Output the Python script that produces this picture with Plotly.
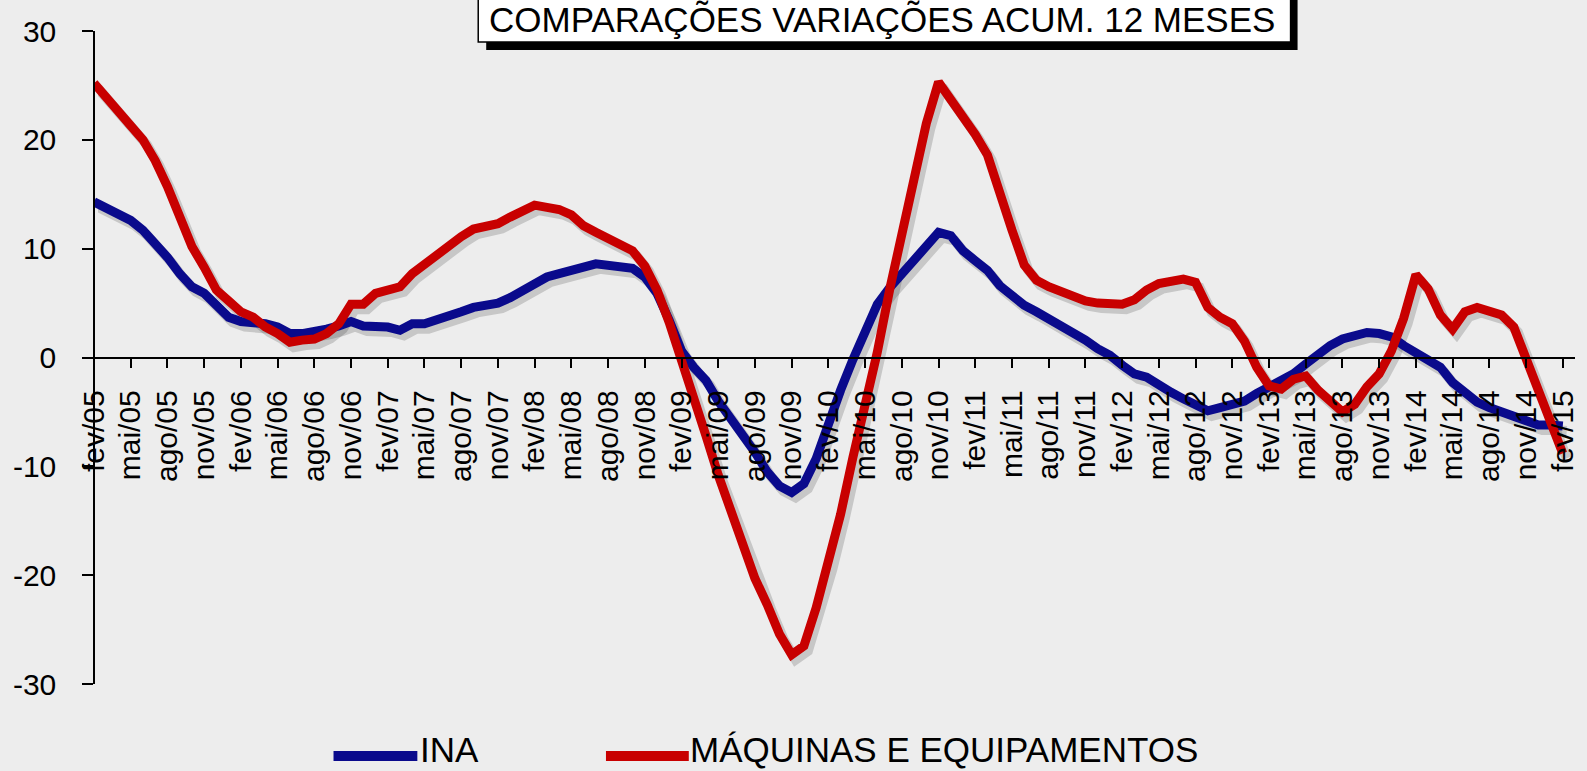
import plotly.graph_objects as go

# ---------------- data ----------------
month_names = ["jan", "fev", "mar", "abr", "mai", "jun", "jul", "ago", "set", "out", "nov", "dez"]
categories = [f"{month_names[(1 + k) % 12]}/{(5 + (1 + k) // 12):02d}" for k in range(121)]  # fev/05 .. fev/15
tick_labels = categories[::3]

ina = [
    14.3, 13.7, 13.1, 12.6, 11.7, 10.5, 9.2, 7.7, 6.5, 5.9,
    4.8, 3.7, 3.3, 3.3, 3.1, 2.8, 2.2, 2.2, 2.3, 2.6,
    2.9, 3.3, 2.9, 2.9, 2.8, 2.5, 3.1, 3.1, 3.4, 3.9,
    4.2, 4.6, 4.7, 5.0, 5.5, 6.2, 6.9, 7.4, 7.7, 8.1,
    8.3, 8.6, 8.5, 8.4, 8.2, 7.4, 5.9, 3.4, 0.6, -0.9,
    -2.1, -4.0, -5.5, -7.0, -8.7, -10.5, -11.8, -12.4, -11.6, -9.3,
    -5.9, -3.0, -0.2, 2.4, 4.9, 6.4, 7.7, 9.1, 10.3, 11.5,
    11.2, 9.8, 8.9, 8.0, 6.6, 5.6, 4.8, 4.2, 3.6, 2.9,
    2.3, 1.6, 0.8, 0.2, -0.7, -1.5, -1.8, -2.6, -3.2, -3.8,
    -4.4, -4.9, -4.6, -4.3, -4.0, -3.3, -2.7, -2.1, -1.5, -0.6,
    0.3, 1.1, 1.7, 2.1, 2.3, 2.2, 1.9, 1.1, 0.4, -0.1,
    -0.9, -2.3, -3.3, -4.1, -4.6, -5.0, -5.5, -5.9, -6.2, -6.2,
    -6.3,
]

maquinas = [
    25.2, 23.8, 22.5, 21.3, 20.0, 18.1, 15.7, 12.9, 10.2, 8.3,
    6.2, 5.2, 4.2, 3.7, 2.8, 2.2, 1.4, 1.6, 1.7, 2.2,
    3.1, 4.9, 4.9, 5.9, 6.2, 6.5, 7.7, 8.6, 9.5, 10.3,
    11.1, 11.8, 12.1, 12.3, 12.9, 13.4, 14.0, 13.8, 13.6, 13.1,
    12.1, 11.5, 11.0, 10.3, 9.8, 8.4, 6.2, 3.2, -0.5, -3.8,
    -7.2, -10.8, -13.8, -16.8, -20.3, -22.7, -25.4, -27.3, -26.5, -23.0,
    -19.0, -14.4, -9.2, -4.5, 0.5, 6.2, 11.4, 16.7, 21.5, 25.3,
    23.8, 22.3, 20.5, 18.6, 14.9, 11.7, 8.5, 7.1, 6.5, 6.0,
    5.6, 5.2, 5.0, 4.9, 4.9, 5.3, 6.2, 6.8, 7.1, 7.2,
    6.9, 4.6, 3.7, 3.1, 1.5, -0.9, -2.6, -2.9, -2.0, -1.7,
    -3.0, -4.1, -5.0, -4.3, -2.7, -1.5, 0.6, 3.6, 7.6, 6.3,
    3.9, 2.6, 4.2, 4.6, 4.3, 3.9, 2.8, 0.0, -2.7, -5.5,
    -8.8,
]

series_names = ["INA", "MÁQUINAS E EQUIPAMENTOS"]
series_colors = ["#0a0a8c", "#c80000"]
title_text = "COMPARAÇÕES VARIAÇÕES ACUM. 12 MESES"
y_ticks = [-30, -20, -10, 0, 10, 20, 30]
y_tick_text = [str(v) for v in y_ticks]

# ---------------- geometry (pixels) ----------------
W, H = 1587, 771
ML, MR, MT, MB = 94, 5, 31, 82
PW, PH = W - ML - MR, H - MT - MB
SHX, SHY = 4, 5  # shadow offset


def px(xp):
    return (xp - ML) / PW


def py(yp):
    return (H - MB - yp) / PH


FONT = "Liberation Sans, Arial, sans-serif"
BG = "#ededed"

fig = go.Figure()

# shadows (primary hidden axes, shifted)
for vals in (ina, maquinas):
    fig.add_trace(go.Scatter(
        x=categories, y=vals, mode="lines", xaxis="x", yaxis="y",
        line=dict(color="rgba(0,0,0,0.16)", width=10), hoverinfo="skip", showlegend=False,
    ))

# main series
for vals, name, col in zip((ina, maquinas), series_names, series_colors):
    fig.add_trace(go.Scatter(
        x=categories, y=vals, mode="lines", name=name, xaxis="x2", yaxis="y2",
        line=dict(color=col, width=9), showlegend=False,
    ))

main_y_domain = [SHY / PH, 1]
zero_pos = (main_y_domain[0] + main_y_domain[1]) / 2

fig.update_layout(
    width=W, height=H, autosize=False,
    margin=dict(l=ML, r=MR, t=MT, b=MB, pad=0),
    paper_bgcolor=BG, plot_bgcolor="rgba(0,0,0,0)",
    font=dict(family=FONT, color="black"),
    xaxis=dict(domain=[SHX / PW, 1], range=[0, 121], visible=False, type="category"),
    yaxis=dict(domain=[0, 1 - SHY / PH], range=[-30, 30], visible=False),
    xaxis2=dict(
        domain=[0, 1 - SHX / PW], range=[0, 121], type="category",
        anchor="free", position=zero_pos,
        showline=True, linecolor="black", linewidth=1.5,
        ticks="outside", ticklen=10, tickwidth=1.5, tickcolor="black",
        tickmode="array", tickvals=tick_labels, ticktext=tick_labels,
        tickangle=-90, tickfont=dict(size=30, family=FONT, color="black"),
        ticklabelstandoff=10,
        showgrid=False, zeroline=False,
    ),
    yaxis2=dict(
        domain=main_y_domain, range=[-30, 30], anchor="free", position=0,
        showline=True, linecolor="black", linewidth=1.5,
        ticks="outside", ticklen=11, tickwidth=1.5, tickcolor="black",
        tickmode="array", tickvals=y_ticks, ticktext=y_tick_text,
        tickfont=dict(size=30, family=FONT, color="black"),
        ticklabelstandoff=20,
        showgrid=False, zeroline=False,
    ),
)

# title box with drop shadow
shapes = [
    dict(type="rect", xref="paper", yref="paper",
         x0=px(479 + 8), x1=px(1293 + 7), y0=py(50), y1=py(-10),
         fillcolor="black", line=dict(width=0), layer="above"),
    dict(type="rect", xref="paper", yref="paper",
         x0=px(479), x1=px(1293), y0=py(42), y1=py(-10),
         fillcolor="white", line=dict(color="black", width=1.5), layer="above"),
]
# legend samples
legend_items = [(334, 418, 419), (607, 690, 689)]
for (x0, x1, _), col in zip(legend_items, series_colors):
    shapes.append(dict(type="line", xref="paper", yref="paper",
                       x0=px(x0), x1=px(x1), y0=py(756), y1=py(756),
                       line=dict(color=col, width=10), layer="above"))
fig.update_layout(shapes=shapes)

annotations = [
    dict(text=title_text, xref="paper", yref="paper", x=px(884), y=py(20),
         xanchor="center", yanchor="middle", showarrow=False,
         font=dict(size=35, family=FONT, color="black")),
]
for (_, _, tx), name in zip(legend_items, series_names):
    annotations.append(dict(text=name, xref="paper", yref="paper", x=px(tx), y=py(750),
                            xanchor="left", yanchor="middle", showarrow=False,
                            font=dict(size=35, family=FONT, color="black")))
fig.update_layout(annotations=annotations)

fig.write_html(
    "out.html",
    config={"displayModeBar": False},
    post_script="document.body.style.margin='0';document.body.style.background='#ededed';",
)
